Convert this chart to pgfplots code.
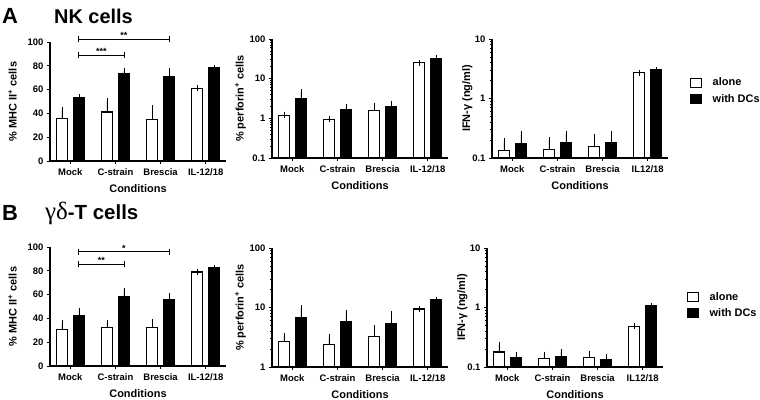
\documentclass[border=0pt]{standalone}
\usepackage{fontspec}
\setmainfont{Liberation Sans}
\newfontfamily\greekserif{Liberation Serif}
\usepackage{pgfplots}
\pgfplotsset{compat=1.18}
\pgfplotsset{
 gp/.style={
  scale only axis, width=176bp, height=119bp,
  axis x line*=bottom, axis y line*=left, axis line style={-, line width=1.1pt},
  xmin=-0.45, xmax=3.45, xtick={0,1,2,3},
  xticklabels={Mock,C-strain,Brescia,IL-12/18},
  tick align=outside, major tick length=3bp, minor tick length=2bp,
  tick style={line width=0.8pt, black},
  ticklabel style={font=\bfseries\fontsize{9.5}{10}\selectfont},
  xticklabel style={yshift=-1bp},
  /pgf/number format/assume math mode=true,
  xlabel={Conditions}, xlabel shift=2bp, label style={font=\bfseries\fontsize{11}{12}\selectfont},
  ybar=6bp, bar width=11bp,
  clip=false,
  error bars/y dir=plus, error bars/y explicit,
  error bars/error bar style={line width=0.6pt, black},
  error bars/error mark options={mark size=3bp, line width=0.6pt, black},
 },
 alone/.style={draw=black, fill=white, line width=1.1pt},
 dcs/.style={draw=black, fill=black, line width=1.1pt},
 gplegend/.style={
  legend cell align=left,
  legend style={draw=none, fill=none, font=\bfseries\fontsize{11}{12}\selectfont,
   anchor=west, at={(axis description cs:#1)}, row sep=3bp, inner sep=0pt},
  legend image code/.code={\draw[##1, line width=1.1pt] (0bp,-4.5bp) rectangle (11bp,4.5bp); \path[draw=none, fill=none] (0bp,0bp) -- (20bp,0bp);},
 },
}
\newcommand{\bracket}[4]{% x1, x2, y, stars
 \draw[line width=0.8pt] ([xshift=8.5bp]axis cs:#1,#3) -- ([xshift=8.5bp]axis cs:#2,#3);
 \draw[line width=0.8pt] ([xshift=8.5bp,yshift=-3bp]axis cs:#1,#3) -- ([xshift=8.5bp,yshift=3bp]axis cs:#1,#3);
 \draw[line width=0.8pt] ([xshift=8.5bp,yshift=-3bp]axis cs:#2,#3) -- ([xshift=8.5bp,yshift=3bp]axis cs:#2,#3);
 \node[font=\bfseries\fontsize{9}{9}\selectfont, anchor=south, inner sep=0.5bp] at ([xshift=8.5bp]axis cs:{(#1+#2)/2},#3) {#4};
}
\begin{document}
\begin{tikzpicture}
\path[use as bounding box] (0,0) rectangle (760bp,400bp);
% titles
\node[anchor=west, font=\bfseries\fontsize{22}{22}\selectfont, inner sep=0] at (2bp,384bp) {A};
\node[anchor=west, font=\bfseries\fontsize{20}{20}\selectfont, inner sep=0] at (54bp,384bp) {NK cells};
\node[anchor=west, font=\bfseries\fontsize{22}{22}\selectfont, inner sep=0] at (2bp,187bp) {B};
\node[anchor=west, font=\bfseries\fontsize{20.5}{20}\selectfont, inner sep=0] at (45bp,187bp) {{\greekserif\mdseries\fontsize{25}{25}\selectfont γδ}-T cells};

% ---------- A left
\begin{axis}[gp, at={(50bp,239bp)}, anchor=south west, ymin=0, ymax=100, ytick={0,20,...,100},
  ylabel={\% MHC II\textsuperscript{+} cells}, ylabel shift=4bp]
\addplot[alone] coordinates {(0,35.6) +- (0,7) (1,41.2) +- (0,9.2) (2,34.7) +- (0,9.5) (3,61.3) +- (0,0)};
\addplot[dcs] coordinates {(0,53) +- (0,0.7) (1,73.4) +- (0,2.5) (2,71.1) +- (0,4.8) (3,78.2) +- (0,0)};
\bracket{0}{1}{89}{***}
\bracket{0}{2}{102.5}{**}
\end{axis}

% ---------- A middle
\begin{axis}[gp, ymode=log, log origin y=infty, log ticks with fixed point, at={(272bp,242bp)}, anchor=south west, ymin=0.1, ymax=100, ytick={0.1,1,10,100},
  ylabel={\% perforin\textsuperscript{+} cells}, ylabel shift=-3bp]
\addplot[alone] coordinates {(0,1.15) +- (0,0.08) (1,0.93) +- (0,0.06) (2,1.6) +- (0,0.4) (3,25) +- (0,0)};
\addplot[dcs] coordinates {(0,3.2) +- (0,1.45) (1,1.62) +- (0,0.3) (2,2.0) +- (0,0.35) (3,33) +- (0,0)};
\end{axis}

% ---------- A right
\begin{axis}[gp, ymode=log, log origin y=infty, log ticks with fixed point, at={(492bp,242bp)}, anchor=south west, ymin=0.1, ymax=10, ytick={0.1,1,10},
  xticklabels={Mock,C-strain,Brescia,IL12/18},
  ylabel={IFN-γ (ng/ml)}, ylabel shift=-7bp, gplegend={1.125,0.565}]
\addplot[alone] coordinates {(0,0.134) +- (0,0.056) (1,0.141) +- (0,0.06) (2,0.157) +- (0,0.068) (3,2.7) +- (0,0)};
\addplot[dcs] coordinates {(0,0.174) +- (0,0.076) (1,0.181) +- (0,0.074) (2,0.181) +- (0,0.074) (3,3.05) +- (0,0)};
\legend{alone, with DCs}
\end{axis}

% ---------- B left
\begin{axis}[gp, at={(50bp,34bp)}, anchor=south west, ymin=0, ymax=100, ytick={0,20,...,100},
  ylabel={\% MHC II\textsuperscript{+} cells}, ylabel shift=4bp]
\addplot[alone] coordinates {(0,30.5) +- (0,5.5) (1,32.5) +- (0,3.5) (2,32) +- (0,5) (3,79) +- (0,0)};
\addplot[dcs] coordinates {(0,42.2) +- (0,4) (1,58.3) +- (0,5) (2,56) +- (0,2.5) (3,82.5) +- (0,0)};
\bracket{0}{1}{85.5}{**}
\bracket{0}{2}{96}{*}
\end{axis}

% ---------- B middle
\begin{axis}[gp, ymode=log, log origin y=infty, log ticks with fixed point, at={(272bp,33bp)}, anchor=south west, ymin=1, ymax=100, ytick={1,10,100},
  ylabel={\% perforin\textsuperscript{+} cells}, ylabel shift=-3bp]
\addplot[alone] coordinates {(0,2.66) +- (0,0.62) (1,2.43) +- (0,0.72) (2,3.24) +- (0,1.24) (3,9.43) +- (0,0)};
\addplot[dcs] coordinates {(0,6.8) +- (0,3.0) (1,5.82) +- (0,2.24) (2,5.38) +- (0,2.47) (3,13.4) +- (0,0)};
\end{axis}

% ---------- B right
\begin{axis}[gp, ymode=log, log origin y=infty, log ticks with fixed point, at={(487bp,33bp)}, anchor=south west, ymin=0.1, ymax=10, ytick={0.1,1,10},
  xticklabels={Mock,C-strain,Brescia,IL12/18},
  ylabel={IFN-γ (ng/ml)}, ylabel shift=-7bp, gplegend={1.136,0.52}]
\addplot[alone] coordinates {(0,0.179) +- (0,0.059) (1,0.138) +- (0,0.022) (2,0.142) +- (0,0.026) (3,0.487) +- (0,0)};
\addplot[dcs] coordinates {(0,0.142) +- (0,0.02) (1,0.151) +- (0,0.031) (2,0.133) +- (0,0.017) (3,1.06) +- (0,0)};
\legend{alone, with DCs}
\end{axis}
\end{tikzpicture}
\end{document}
